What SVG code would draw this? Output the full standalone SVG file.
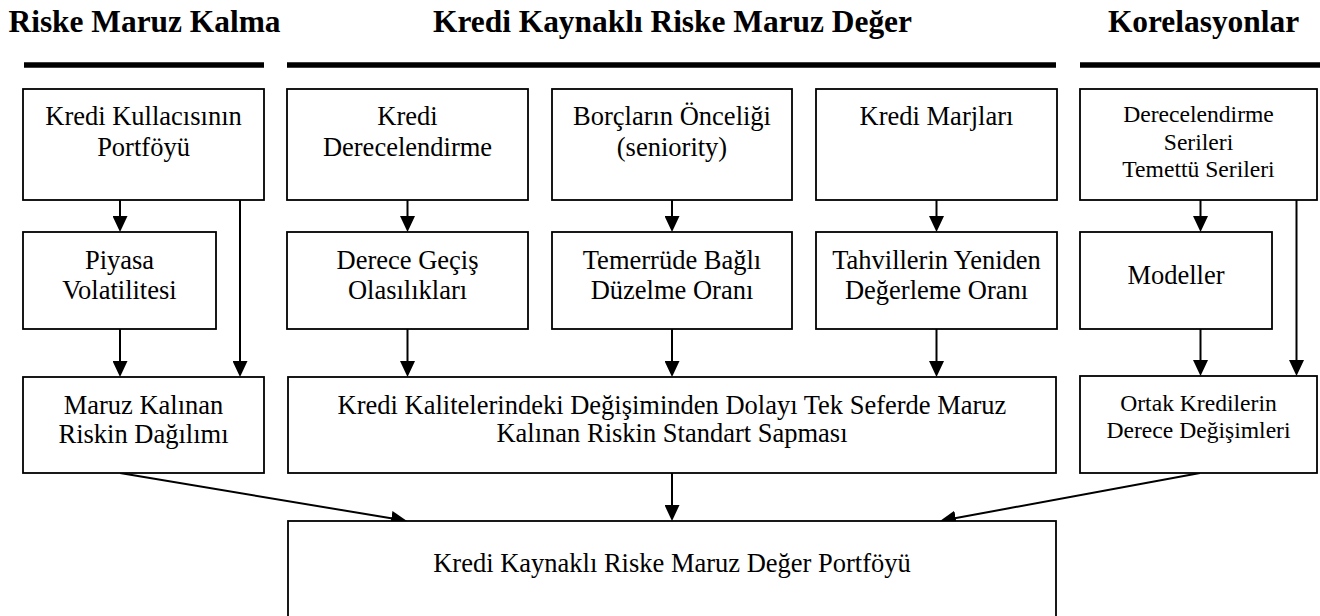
<svg xmlns="http://www.w3.org/2000/svg" width="1320" height="616" viewBox="0 0 1320 616">
<style>
  .box { fill: #fff; stroke: #000; stroke-width: 1.8; }
  .t { font-family: 'Liberation Serif', 'DejaVu Serif', serif; font-size: 26.5px; fill: #000; text-anchor: middle; }
  .s { font-family: 'Liberation Serif', 'DejaVu Serif', serif; font-size: 23.6px; fill: #000; text-anchor: middle; }
  .h { font-family: 'Liberation Serif', 'DejaVu Serif', serif; font-size: 31.4px; font-weight: bold; fill: #000; text-anchor: middle; }
  .bar { stroke: #000; stroke-width: 5.5; }
  .c { fill: none; stroke: #000; stroke-width: 2; marker-end: url(#ah); }
</style>
<defs>
  <marker id="ah" viewBox="0 0 16 15" refX="12" refY="7.5" markerWidth="16" markerHeight="15" markerUnits="userSpaceOnUse" orient="auto">
    <path d="M0,0 L16,7.5 L0,15 Z" fill="#000"/>
  </marker>
</defs>
<rect width="1320" height="616" fill="#fff"/>

<g id="headers">
  <text class="h" x="144.5" y="32">Riske Maruz Kalma</text>
  <text class="h" x="672.5" y="32">Kredi Kaynaklı Riske Maruz Değer</text>
  <text class="h" x="1203.5" y="32">Korelasyonlar</text>
  <line class="bar" x1="24" y1="65" x2="264" y2="65"/>
  <line class="bar" x1="287" y1="65" x2="1056" y2="65"/>
  <line class="bar" x1="1080" y1="65" x2="1320" y2="65"/>
</g>

<g id="connectors">
  <path class="c" d="M120,200 L120,228"/>
  <path class="c" d="M240,200 L240,373"/>
  <path class="c" d="M120,329 L120,373"/>
  <path class="c" d="M407.5,200 L407.5,228"/>
  <path class="c" d="M672,200 L672,228"/>
  <path class="c" d="M936.5,200 L936.5,228"/>
  <path class="c" d="M1200.5,200 L1200.5,228"/>
  <path class="c" d="M1296.5,200 L1296.5,372"/>
  <path class="c" d="M407.5,329 L407.5,373"/>
  <path class="c" d="M672,329 L672,373"/>
  <path class="c" d="M936.5,329 L936.5,373"/>
  <path class="c" d="M1200.5,329 L1200.5,372"/>
  <path class="c" d="M672,473 L672,517"/>
  <path class="c" d="M120,473 L403.06,520.34"/>
  <path class="c" d="M1200,473 L943.9,520.27"/>
</g>

<g id="n-kredi-kullanici">
  <rect class="box" x="23" y="89" width="241" height="111"/>
  <text class="t" x="143.5" y="125">Kredi Kullacısının</text>
  <text class="t" x="143.5" y="155.5">Portföyü</text>
</g>
<g id="n-kredi-derecelendirme">
  <rect class="box" x="287" y="89" width="241" height="111"/>
  <text class="t" x="407.5" y="125">Kredi</text>
  <text class="t" x="407.5" y="155.5">Derecelendirme</text>
</g>
<g id="n-borclarin-onceligi">
  <rect class="box" x="552" y="89" width="240" height="111"/>
  <text class="t" x="672" y="125">Borçların Önceliği</text>
  <text class="t" x="672" y="155.5">(seniority)</text>
</g>
<g id="n-kredi-marjlari">
  <rect class="box" x="816" y="89" width="241" height="111"/>
  <text class="t" x="936.5" y="125">Kredi Marjları</text>
</g>
<g id="n-derecelendirme-serileri">
  <rect class="box" x="1080" y="89" width="237" height="111"/>
  <text class="s" x="1198.5" y="122">Derecelendirme</text>
  <text class="s" x="1198.5" y="149.5">Serileri</text>
  <text class="s" x="1198.5" y="177">Temettü Serileri</text>
</g>

<g id="n-piyasa">
  <rect class="box" x="23" y="232" width="193" height="97"/>
  <text class="t" x="119.5" y="268.5">Piyasa</text>
  <text class="t" x="119.5" y="299">Volatilitesi</text>
</g>
<g id="n-derece-gecis">
  <rect class="box" x="287" y="232" width="241" height="97"/>
  <text class="t" x="407.5" y="268.5">Derece Geçiş</text>
  <text class="t" x="407.5" y="299">Olasılıkları</text>
</g>
<g id="n-temerrude">
  <rect class="box" x="552" y="232" width="240" height="97"/>
  <text class="t" x="672" y="268.5">Temerrüde Bağlı</text>
  <text class="t" x="672" y="299">Düzelme Oranı</text>
</g>
<g id="n-tahvillerin">
  <rect class="box" x="816" y="232" width="241" height="97"/>
  <text class="t" x="936.5" y="268.5">Tahvillerin Yeniden</text>
  <text class="t" x="936.5" y="299">Değerleme Oranı</text>
</g>
<g id="n-modeller">
  <rect class="box" x="1080" y="232" width="192" height="97"/>
  <text class="t" x="1176" y="284">Modeller</text>
</g>

<g id="n-maruz-kalinan">
  <rect class="box" x="23" y="377" width="241" height="96"/>
  <text class="t" x="143.5" y="413.5">Maruz Kalınan</text>
  <text class="t" x="143.5" y="442.5">Riskin Dağılımı</text>
</g>
<g id="n-standart-sapma">
  <rect class="box" x="288" y="377" width="768" height="96"/>
  <text class="t" x="672" y="413.5">Kredi Kalitelerindeki Değişiminden Dolayı Tek Seferde Maruz</text>
  <text class="t" x="672" y="442">Kalınan Riskin Standart Sapması</text>
</g>
<g id="n-ortak-krediler">
  <rect class="box" x="1080" y="376" width="237" height="97"/>
  <text class="s" x="1198.5" y="410.5">Ortak Kredilerin</text>
  <text class="s" x="1198.5" y="437.5">Derece Değişimleri</text>
</g>

<g id="n-portfoy">
  <rect class="box" x="288" y="521" width="768" height="97"/>
  <text class="t" x="672" y="572">Kredi Kaynaklı Riske Maruz Değer Portföyü</text>
</g>
</svg>
